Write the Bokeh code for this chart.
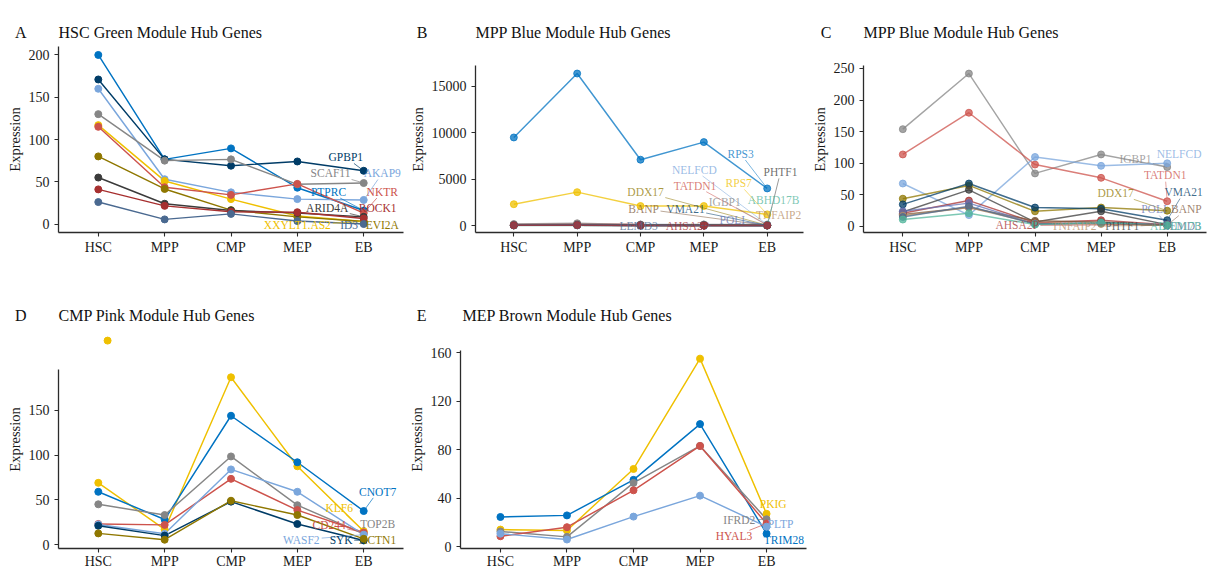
import math
from bokeh.plotting import figure
from bokeh.layouts import column, row
from bokeh.models import FixedTicker, Range1d
from bokeh.core.properties import value
from bokeh.embed import file_html
from bokeh.resources import INLINE

stages = ["HSC", "MPP", "CMP", "MEP", "EB"]

# ---------------- Panel A : HSC Green module ----------------
a_genes = ["PTPRC", "GPBP1", "AKAP9", "SCAF11", "XXYLT1.AS2", "NKTR", "EVI2A", "ARID4A", "ROCK1", "ID3"]
a_values = [
    [200, 76.5, 89.5, 43, 16],
    [171, 76.5, 69, 74, 63],
    [160, 53, 37.5, 29.5, 28.5],
    [130, 75, 76.5, 47, 48.5],
    [117, 51, 29.5, 9.5, 3],
    [115, 43.5, 34.5, 47.5, 13],
    [80, 41.5, 16.5, 8.5, 3],
    [55, 24, 16, 13, 8.5],
    [41, 21.5, 14.5, 14, 6.5],
    [26, 5.5, 12, 3.5, 0],
]
a_colors = ["#0073C2", "#003C67", "#7AA6DC", "#868686", "#EFC000", "#CD534C", "#8F7700", "#3B3B3B", "#A73030", "#4A6990"]
a_label_x = [4.47, 4.73, 5.28, 4.50, 4.00, 5.28, 5.28, 4.45, 5.21, 4.78]
a_label_y = [38, 79, 60, 60, -1.2, 38, -1.2, 18.6, 18.6, -1.2]
a_yticks = [0, 50, 100, 150, 200]

# ---------------- Panel B : MPP Blue module ----------------
b_genes = ["RPS3", "PHTF1", "NELFCD", "RPS7", "ABHD17B", "TATDN1", "TNFAIP2", "IGBP1",
           "DDX17", "BANP", "VMA21", "POLI", "LEMD3", "AHSA2P"]
b_values = [
    [9500, 16400, 7100, 9000, 4000],
    [23, 58, 7, 24, 3],
    [68, 18, 110, 96, 100],
    [2300, 3600, 2100, 2100, 1200],
    [11, 21, 3, 6, 2],
    [114, 180, 98, 77, 40],
    [17, 30, 5, 4, 2],
    [154, 242, 84, 114, 94],
    [44, 65, 24, 30, 25],
    [19, 30, 9, 7, 2],
    [35, 68, 30, 28, 10],
    [24, 37, 4, 5, 3],
    [15, 32, 4, 6, 2],
    [21, 41, 6, 10, 3],
]
b_colors = ["#0073C2", "#3B3B3B", "#7AA6DC", "#EFC000", "#51B59B", "#CD534C", "#B58D65", "#868686",
            "#8F7700", "#7E5A3C", "#003C67", "#6573B5", "#4A6990", "#A73030"]
b_label_x = [4.58, 5.21, 3.85, 4.55, 5.10, 3.86, 5.18, 4.33, 3.08, 3.05, 3.71, 4.45, 2.97, 3.74]
b_label_y = [7735, 5750, 6010, 4560, 2700, 4315, 1080, 2590, 3590, 1800, 1800, 615, 0, 0]
b_yticks = [0, 5000, 10000, 15000]

# ---------------- Panel C : MPP Blue module (low-expression genes) ----------------
c_genes = ["IGBP1", "TATDN1", "NELFCD", "DDX17", "VMA21", "PHTF1", "AHSA2P", "BANP",
           "POLI", "TNFAIP2", "LEMD3", "ABHD17B"]
c_values = [
    [154, 242, 84, 114, 94],
    [114, 180, 98, 77, 40],
    [68, 18, 110, 96, 100],
    [44, 65, 24, 30, 25],
    [35, 68, 30, 28, 10],
    [23, 58, 7, 24, 3],
    [21, 41, 6, 10, 3],
    [19, 30, 9, 7, 2],
    [24, 37, 4, 5, 3],
    [17, 30, 5, 4, 2],
    [15, 32, 4, 6, 2],
    [11, 21, 3, 6, 2],
]
c_colors = ["#868686", "#CD534C", "#7AA6DC", "#8F7700", "#003C67", "#3B3B3B", "#A73030", "#7E5A3C",
            "#6573B5", "#B58D65", "#4A6990", "#51B59B"]
c_label_x = [4.52, 4.97, 5.18, 4.22, 5.25, 4.32, 2.73, 5.29, 4.80, 3.59, 5.22, 5.13]
c_label_y = [107, 80.7, 114, 52.7, 54, 0, 1.6, 27, 27, 0, 0, 0]
c_yticks = [0, 50, 100, 150, 200, 250]

# ---------------- Panel D : CMP Pink module ----------------
d_genes = ["KLF6", "CNOT7", "TOP2B", "CD244", "WASF2", "SYK", "ACTN1"]
d_values = [
    [69, 17, 187, 87.5, 15],
    [59, 28, 144, 92, 37.5],
    [45, 33, 98.5, 44, 12],
    [23, 22, 73.5, 38.5, 13.5],
    [22.5, 12, 84, 59, 11],
    [21, 10, 48, 23, 4.6],
    [12.5, 5.4, 49, 33, 6.4],
]
d_colors = ["#EFC000", "#0073C2", "#868686", "#CD534C", "#7AA6DC", "#003C67", "#8F7700"]
d_label_x = [4.63, 5.21, 5.21, 4.48, 4.06, 4.66, 5.21]
d_label_y = [40.4, 59, 23.3, 21.8, 5.4, 5.4, 5.4]
d_yticks = [0, 50, 100, 150]
d_extra_x = [1.14]
d_extra_y = [228]

# ---------------- Panel E : MEP Brown module ----------------
e_genes = ["PKIG", "TRIM28", "IFRD2", "HYAL3", "PLTP"]
e_values = [
    [14, 13.3, 64, 155, 27],
    [24.4, 25.7, 55, 101, 10.6],
    [12.5, 8, 52.5, 83, 22.5],
    [8.5, 16, 46.4, 83, 19],
    [10.6, 5.8, 24.7, 42, 16.4],
]
e_colors = ["#EFC000", "#0073C2", "#868686", "#CD534C", "#7AA6DC"]
e_label_x = [5.10, 5.26, 4.59, 4.51, 5.21]
e_label_y = [35, 5.8, 21.7, 8.4, 18.6]
e_yticks = [0, 40, 80, 120, 160]

SERIF = "Liberation Serif"
LABEL_FS = 11.5
TITLE_FS = 16

CW = {"A": .722, "B": .667, "C": .667, "D": .722, "E": .611, "F": .556, "G": .722, "H": .722,
      "I": .333, "J": .389, "K": .722, "L": .611, "M": .889, "N": .722, "O": .722, "P": .556,
      "Q": .722, "R": .667, "S": .556, "T": .611, "U": .722, "V": .722, "W": .944, "X": .722,
      "Y": .722, "Z": .611, ".": .25}


def text_w(s, fs):
    return sum(CW.get(ch, 0.5) for ch in s) * fs


def make_panel(letter, title, genes, values, colors, alpha, lab_x, lab_y, yticks,
               xr, yr, fig_box, frame_box, title_left, spacer, standoff,
               ybounds=None, extra=None, xstandoff=3):
    fx, fy, W, H = fig_box
    fl, ft, fr, fb = frame_box
    p = figure(width=W, height=H, x_range=Range1d(*xr), y_range=Range1d(*yr),
               output_backend="svg", toolbar_location=None,
               min_border_left=fl - fx, min_border_right=fx + W - fr,
               min_border_top=ft - fy, min_border_bottom=fy + H - fb)
    p.outline_line_color = None
    p.xgrid.visible = False
    p.ygrid.visible = False
    p.background_fill_color = "white"
    p.border_fill_color = "white"

    x = [1, 2, 3, 4, 5]
    p.multi_line([x] * len(values), values, line_color=colors, line_width=1.45, line_alpha=alpha)
    for v, c in zip(values, colors):
        p.scatter(x, v, size=7, fill_color=c, line_color=c, fill_alpha=alpha, line_alpha=alpha)
    if extra is not None:
        p.scatter(extra[0], extra[1], size=7, fill_color=extra[2], line_color=extra[2])

    # repel-style connector segments from label box to the EB point
    sx = (fr - fl) / (xr[1] - xr[0])
    sy = (fb - ft) / (yr[1] - yr[0])
    to_px = lambda a, b: ((a - xr[0]) * sx, (b - yr[0]) * sy)
    to_d = lambda a, b: (a / sx + xr[0], b / sy + yr[0])
    s0x, s0y, s1x, s1y, scol = [], [], [], [], []
    for g, v, c, lx, ly in zip(genes, values, colors, lab_x, lab_y):
        Lx, Ly = to_px(lx, ly)
        Px, Py = to_px(5, v[4])
        hw = text_w(g, LABEL_FS) / 2 + 1.5
        hh = LABEL_FS * 0.45 + 1
        dx, dy = Px - Lx, Py - Ly
        if abs(dx) <= hw and abs(dy) <= hh:
            continue
        t = min(hw / abs(dx) if dx else 1e9, hh / abs(dy) if dy else 1e9)
        ax, ay = Lx + t * dx, Ly + t * dy
        L = math.hypot(Px - ax, Py - ay)
        if L < 7:
            continue
        ux, uy = (Px - ax) / L, (Py - ay) / L
        ex, ey = Px - ux * 3.5, Py - uy * 3.5
        a0 = to_d(ax, ay)
        e0 = to_d(ex, ey)
        s0x.append(a0[0]); s0y.append(a0[1]); s1x.append(e0[0]); s1y.append(e0[1]); scol.append(c)
    if s0x:
        p.segment(s0x, s0y, s1x, s1y, line_color=scol, line_width=0.7, line_alpha=alpha)

    p.text(lab_x, lab_y, text=genes, text_color=colors, text_alpha=alpha,
           text_font=value(SERIF), text_font_size=f"{LABEL_FS}px",
           text_align="center", text_baseline="middle")

    # axes
    p.xaxis.ticker = FixedTicker(ticks=x)
    p.xaxis.major_label_overrides = {i + 1: s for i, s in enumerate(stages)}
    p.yaxis.ticker = FixedTicker(ticks=yticks)
    p.yaxis.axis_label = "Expression"
    for ax in (p.xaxis, p.yaxis):
        ax.axis_line_color = "#2b2b2b"
        ax.axis_line_width = 1.3
        ax.major_tick_line_color = "#2b2b2b"
        ax.major_tick_line_width = 1.1
        ax.major_tick_out = 4
        ax.major_tick_in = 0
        ax.minor_tick_line_color = None
        ax.major_label_text_font = SERIF
        ax.major_label_text_font_size = "14px"
        ax.major_label_text_color = "#1a1a1a"
        ax.axis_label_text_font = SERIF
        ax.axis_label_text_font_size = "14.5px"
        ax.axis_label_text_font_style = "normal"
        ax.axis_label_text_color = "#1a1a1a"
    p.xaxis.major_label_standoff = xstandoff
    p.yaxis.major_label_standoff = 5
    p.yaxis.axis_label_standoff = 3
    if ybounds is not None:
        p.yaxis.bounds = ybounds

    # panel letter + title (one left-aligned title line)
    lw = text_w(letter, TITLE_FS)
    spacer_w = sum({"\u2003": 1.0, "\u00a0": 0.25}[ch] for ch in spacer) * TITLE_FS
    p.title.text = letter + spacer + title
    p.title.align = "left"
    p.title.offset = (title_left - fl) - (lw + spacer_w)
    p.title.standoff = standoff
    p.title.text_font = SERIF
    p.title.text_font_size = f"{TITLE_FS}px"
    p.title.text_font_style = "normal"
    p.title.text_color = "#111111"
    return p


EM2 = "\u2003\u2003"
EM3 = "\u2003\u2003\u2003"

pA = make_panel("A", "HSC Green Module Hub Genes", a_genes, a_values, a_colors, 1.0,
                a_label_x, a_label_y, a_yticks, (0.4, 5.6), (-10, 210),
                (0, 0, 405, 270), (58, 46, 403, 232), 58, EM2, 12)
pB = make_panel("B", "MPP Blue Module Hub Genes", b_genes, b_values, b_colors, 0.75,
                b_label_x, b_label_y, b_yticks, (0.395, 5.573), (-755, 19316),
                (405, 0, 400, 270), (475, 46, 803, 232), 475, EM3, 12,
                ybounds=(-755, 17266))
pC = make_panel("C", "MPP Blue Module Hub Genes", c_genes, c_values, c_colors, 0.75,
                c_label_x, c_label_y, c_yticks, (0.405, 5.595), (-9.5, 284.8),
                (805, 0, 405, 270), (863, 46, 1206, 232), 863, EM2, 12,
                ybounds=(-9.5, 254.7))
pD = make_panel("D", "CMP Pink Module Hub Genes", d_genes, d_values, d_colors, 1.0,
                d_label_x, d_label_y, d_yticks, (0.4, 5.6), (-4.4, 239.3),
                (0, 270, 405, 301), (58, 330, 403, 551), 58, EM2, 14,
                ybounds=(-4.4, 196), extra=(d_extra_x, d_extra_y, "#EFC000"), xstandoff=1)
pE = make_panel("E", "MEP Brown Module Hub Genes", e_genes, e_values, e_colors, 1.0,
                e_label_x, e_label_y, e_yticks, (0.4, 5.6), (-1.6, 178.2),
                (405, 270, 405, 301), (459, 330, 806, 551), 461, EM2 + "\u00a0", 14,
                ybounds=(-1.6, 161.9), xstandoff=1)

layout = column(row(pA, pB, pC), row(pD, pE))
open("out.html", "w").write(file_html(layout, INLINE))
